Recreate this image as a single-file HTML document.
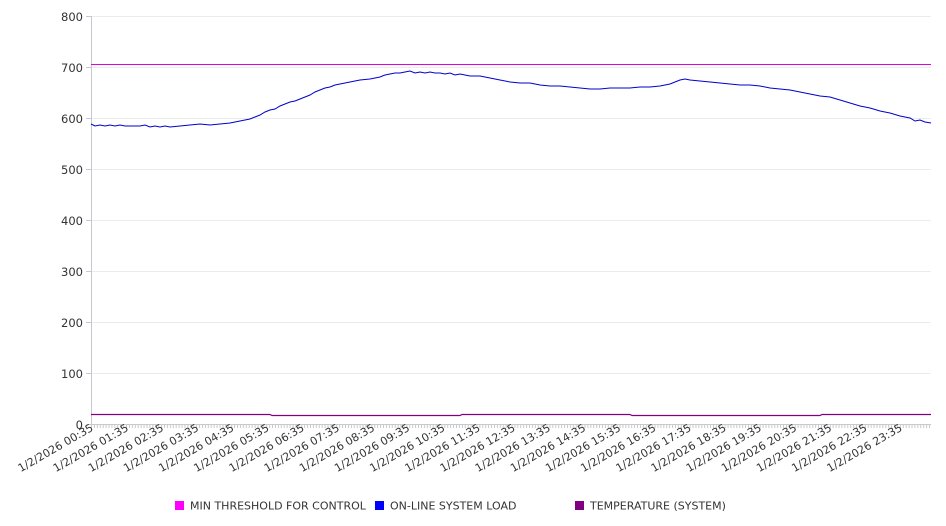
<!DOCTYPE html>
<html><head><meta charset="utf-8"><style>
html,body{margin:0;padding:0;background:#fff;}
svg{display:block;font-family:"DejaVu Sans","Liberation Sans",sans-serif;}
</style></head><body>
<svg width="946" height="526" viewBox="0 0 946 526">
<defs>
<pattern id="tk" x="91" y="0" width="2.92" height="10" patternUnits="userSpaceOnUse"><rect x="0" y="0" width="1" height="10" fill="#c8c8c8"/></pattern>
</defs>
<g stroke="#ececec" stroke-width="1">
<line x1="91" y1="16.5" x2="931" y2="16.5"/><line x1="91" y1="67.5" x2="931" y2="67.5"/>
<line x1="91" y1="118.5" x2="931" y2="118.5"/><line x1="91" y1="169.5" x2="931" y2="169.5"/>
<line x1="91" y1="220.5" x2="931" y2="220.5"/><line x1="91" y1="271.5" x2="931" y2="271.5"/>
<line x1="91" y1="322.5" x2="931" y2="322.5"/><line x1="91" y1="373.5" x2="931" y2="373.5"/>
</g>
<line x1="91.5" y1="16" x2="91.5" y2="424" stroke="#c8c8d0"/>
<line x1="91" y1="424.5" x2="931" y2="424.5" stroke="#c8c8d0"/>
<rect x="91" y="425" width="840" height="3" fill="url(#tk)"/>
<g stroke="#c8c8d0"><line x1="86" y1="16.5" x2="91" y2="16.5"/><line x1="86" y1="67.5" x2="91" y2="67.5"/><line x1="86" y1="118.5" x2="91" y2="118.5"/><line x1="86" y1="169.5" x2="91" y2="169.5"/><line x1="86" y1="220.5" x2="91" y2="220.5"/><line x1="86" y1="271.5" x2="91" y2="271.5"/><line x1="86" y1="322.5" x2="91" y2="322.5"/><line x1="86" y1="373.5" x2="91" y2="373.5"/><line x1="86" y1="424.5" x2="91" y2="424.5"/></g>
<g font-size="11.5" fill="#333" text-anchor="end">
<text x="83" y="21">800</text><text x="83" y="72">700</text><text x="83" y="123">600</text><text x="83" y="174">500</text><text x="83" y="225">400</text><text x="83" y="276">300</text><text x="83" y="327">200</text><text x="83" y="378">100</text><text x="83" y="429">0</text>
</g>
<line x1="91" y1="64.5" x2="931" y2="64.5" stroke="#e000e0" stroke-width="1"/>
<polyline fill="none" stroke="#0000cc" stroke-width="1" points="91,124 95,126 100,125 105,126 110,125 115,126 120,125 125,126 130,126 140,126 145,125 150,127 155,126 160,127 165,126 170,127 180,126 190,125 200,124 210,125 220,124 230,123 235,122 240,121 245,120 250,119 255,117 260,115 265,112 270,110 275,109 280,106 285,104 290,102 295,101 300,99 305,97 310,95 315,92 320,90 325,88 330,87 335,85 340,84 345,83 350,82 355,81 360,80 370,79 380,77 385,75 390,74 395,73 400,73 405,72 410,71 415,73 420,72 425,73 430,72 435,73 440,73 445,74 450,73 455,75 460,74 465,75 470,76 480,76 485,77 490,78 495,79 500,80 510,82 520,83 530,83 540,85 550,86 560,86 570,87 580,88 590,89 600,89 610,88 620,88 630,88 640,87 650,87 660,86 670,84 675,82 680,80 685,79 690,80 700,81 710,82 720,83 730,84 740,85 750,85 760,86 770,88 780,89 790,90 800,92 810,94 820,96 830,97 840,100 850,103 860,106 870,108 880,111 890,113 900,116 910,118 915,121 920,120 925,122 931,123"/>
<polyline fill="none" stroke="#800080" stroke-width="1.2" points="91,414.5 270,414.5 272,415.5 460,415.5 462,414.5 630,414.5 632,415.5 820,415.5 822,414.5 931,414.5"/>
<g font-size="11" fill="#333" text-anchor="end">
<text transform="translate(94,430) rotate(-30)">1/2/2026 00:35</text>
<text transform="translate(129.2,430) rotate(-30)">1/2/2026 01:35</text>
<text transform="translate(164.3,430) rotate(-30)">1/2/2026 02:35</text>
<text transform="translate(199.5,430) rotate(-30)">1/2/2026 03:35</text>
<text transform="translate(234.7,430) rotate(-30)">1/2/2026 04:35</text>
<text transform="translate(269.8,430) rotate(-30)">1/2/2026 05:35</text>
<text transform="translate(305,430) rotate(-30)">1/2/2026 06:35</text>
<text transform="translate(340.2,430) rotate(-30)">1/2/2026 07:35</text>
<text transform="translate(375.4,430) rotate(-30)">1/2/2026 08:35</text>
<text transform="translate(410.5,430) rotate(-30)">1/2/2026 09:35</text>
<text transform="translate(445.7,430) rotate(-30)">1/2/2026 10:35</text>
<text transform="translate(480.9,430) rotate(-30)">1/2/2026 11:35</text>
<text transform="translate(516,430) rotate(-30)">1/2/2026 12:35</text>
<text transform="translate(551.2,430) rotate(-30)">1/2/2026 13:35</text>
<text transform="translate(586.4,430) rotate(-30)">1/2/2026 14:35</text>
<text transform="translate(621.5,430) rotate(-30)">1/2/2026 15:35</text>
<text transform="translate(656.7,430) rotate(-30)">1/2/2026 16:35</text>
<text transform="translate(691.9,430) rotate(-30)">1/2/2026 17:35</text>
<text transform="translate(727,430) rotate(-30)">1/2/2026 18:35</text>
<text transform="translate(762.2,430) rotate(-30)">1/2/2026 19:35</text>
<text transform="translate(797.4,430) rotate(-30)">1/2/2026 20:35</text>
<text transform="translate(832.5,430) rotate(-30)">1/2/2026 21:35</text>
<text transform="translate(867.7,430) rotate(-30)">1/2/2026 22:35</text>
<text transform="translate(902.9,430) rotate(-30)">1/2/2026 23:35</text>
</g>
<g font-size="11" fill="#333">
<rect x="175" y="501" width="9" height="9" fill="#ff00ff"/><text x="190" y="509.5">MIN THRESHOLD FOR CONTROL</text>
<rect x="375" y="501" width="9" height="9" fill="#0000ff"/><text x="390" y="509.5">ON-LINE SYSTEM LOAD</text>
<rect x="575" y="501" width="9" height="9" fill="#800080"/><text x="590" y="509.5">TEMPERATURE (SYSTEM)</text>
</g>
</svg>
</body></html>
